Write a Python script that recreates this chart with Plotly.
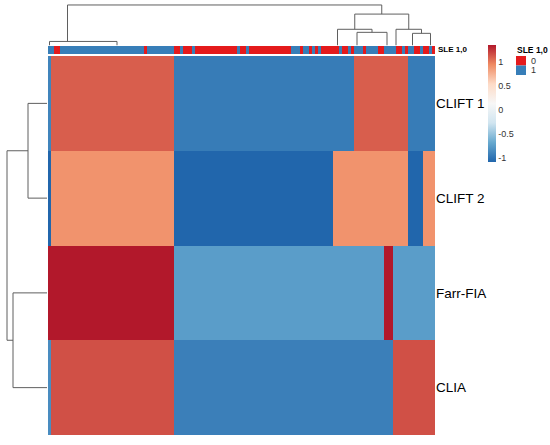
import numpy as np
import plotly.graph_objects as go

W, H = 550, 445

ROW_NAMES = ["CLIFT 1", "CLIFT 2", "Farr-FIA", "CLIA"]

# columns are already in dendrogram order; neighbouring samples share values,
# so each row is stored as one value per block of columns
BLOCK_SIZES = [1, 41, 53, 7, 10, 3, 5, 5, 4]
CLIFT1 = [-0.90, 1.10, -0.95, -0.95, 1.10, 1.10, 1.10, -0.95, -0.95]
CLIFT2 = [-1.08, 0.90, -1.08, 0.90, 0.90, 0.90, 0.90, -1.08, 0.90]
FARR_FIA = [1.35, 1.35, -0.75, -0.75, -0.75, 1.35, -0.75, -0.75, -0.75]
CLIA = [-0.85, 1.15, -0.93, -0.93, -0.93, -0.93, 1.15, 1.15, 1.15]

# SLE status per sample (0 / 1), same column order
SLE = [
    1, 1, 0, 0, 1, 1, 1, 1, 1, 1, 1, 1, 1, 1, 1, 1, 1, 1, 1, 1,
    1, 1, 1, 1, 1, 1, 1, 1, 1, 1, 1, 1, 0, 1, 1, 1, 1, 1, 1, 1,
    1, 1, 0, 0, 1, 0, 0, 0, 1, 0, 0, 0, 0, 0, 0, 0, 0, 0, 0, 0,
    0, 0, 0, 1, 0, 0, 1, 0, 0, 0, 0, 0, 0, 0, 0, 0, 0, 0, 0, 0,
    0, 1, 1, 1, 0, 1, 1, 0, 1, 0, 1, 0, 0, 0, 0, 0, 0, 1, 0, 0,
    1, 0, 1, 1, 1, 0, 1, 1, 1, 1, 0, 0, 1, 1, 1, 1, 0, 0, 1, 0,
    1, 1, 0, 0, 1, 0, 0, 1, 0,
]

# dendrogram merges: left pos, right pos, merge height, left child height, right child height
COL_TREE = [
    (6.0, 110.75, 40, 4, 31),
    (0.0, 22.5, 4, 0, 0),
    (101.75, 119.75, 31, 16, 16),
    (96.0, 107.5, 16, 0, 13),
    (102.5, 112.5, 13, 0, 0),
    (115.5, 124.0, 16, 0, 12),
    (121.0, 127.0, 12, 0, 0),
]
ROW_TREE = [
    (0, 1, 19, 0, 0),
    (2, 3, 34, 0, 0),
    (0.5, 2.5, 40, 19, 34),
]

CBAR_TICKS = [-1, -0.5, 0, 0.5, 1]
ZMIN, ZMAX = -1.08, 1.35

RDBU = [
    [0.0, "#2166AC"], [1 / 6, "#67A9CF"], [2 / 6, "#D1E5F0"], [3 / 6, "#F7F7F7"],
    [4 / 6, "#FDDBC7"], [5 / 6, "#EF8A62"], [1.0, "#B2182B"],
]
SLE_RED, SLE_BLUE = "#E41A1C", "#377EB8"
LINE = "#5f5f5f"
FONT = "Liberation Sans, Arial, sans-serif"


def px_x(p):
    return p / W


def px_y(p):
    return 1 - p / H


def tree_lines(nodes):
    pos, hgt = [], []
    for left, right, h, hl, hr in nodes:
        pos += [left, left, right, right, None]
        hgt += [hl, h, h, hr, None]
    return pos, hgt


z = np.array([np.repeat(row, BLOCK_SIZES) for row in (CLIFT1, CLIFT2, FARR_FIA, CLIA)])
n_cols = z.shape[1]

fig = go.Figure()

fig.add_trace(go.Heatmap(
    z=z, zmin=ZMIN, zmax=ZMAX, colorscale=RDBU, xaxis="x", yaxis="y",
    colorbar=dict(
        x=px_x(488), xanchor="left", y=px_y(45), yanchor="top",
        lenmode="pixels", len=117, thickness=8, thicknessmode="pixels",
        xpad=0, ypad=0, outlinewidth=0, ticks="",
        tickvals=CBAR_TICKS, ticktext=[f"{t:g}" for t in CBAR_TICKS],
        tickfont=dict(size=9, color="#333", family=FONT),
    ),
    hoverinfo="skip",
))

fig.add_trace(go.Heatmap(
    z=[SLE], zmin=0, zmax=1, showscale=False, xaxis="x2", yaxis="y2",
    colorscale=[[0, SLE_RED], [0.5, SLE_RED], [0.5, SLE_BLUE], [1, SLE_BLUE]],
    hoverinfo="skip",
))

cx, cy = tree_lines(COL_TREE)
fig.add_trace(go.Scatter(x=cx, y=cy, mode="lines", xaxis="x3", yaxis="y3",
                         line=dict(color=LINE, width=1), hoverinfo="skip", showlegend=False))

ry, rx = tree_lines(ROW_TREE)
fig.add_trace(go.Scatter(x=rx, y=ry, mode="lines", xaxis="x4", yaxis="y4",
                         line=dict(color=LINE, width=1), hoverinfo="skip", showlegend=False))

x_dom = [px_x(48), px_x(435)]
main_dom = [px_y(435), px_y(56)]
hidden = dict(visible=False, showgrid=False, zeroline=False)

fig.update_layout(
    width=W, height=H, margin=dict(l=0, r=0, t=0, b=0),
    paper_bgcolor="white", plot_bgcolor="white", showlegend=False,
    font=dict(family=FONT, color="black"),
    xaxis=dict(domain=x_dom, range=[-0.5, n_cols - 0.5], **hidden),
    yaxis=dict(domain=main_dom, range=[3.5, -0.5], side="right", anchor="x",
               tickmode="array", tickvals=list(range(4)), ticktext=ROW_NAMES,
               ticks="", showgrid=False, zeroline=False, showline=False,
               tickfont=dict(size=13.5, color="black", family=FONT)),
    xaxis2=dict(domain=x_dom, matches="x", anchor="y2", **hidden),
    yaxis2=dict(domain=[px_y(54), px_y(46)], range=[-0.5, 0.5], anchor="x2", **hidden),
    xaxis3=dict(domain=x_dom, matches="x", anchor="y3", **hidden),
    yaxis3=dict(domain=[px_y(45.5), 1], range=[0, 44.9], anchor="x3", **hidden),
    xaxis4=dict(domain=[0, px_x(47)], range=[47, 0], anchor="y4", **hidden),
    yaxis4=dict(domain=main_dom, matches="y", anchor="x4", **hidden),
)

# annotation-bar label and its legend
fig.add_annotation(x=px_x(436), y=px_y(49.5), xref="paper", yref="paper", xanchor="left",
                   yanchor="middle", text="<b>SLE 1,0</b>", showarrow=False,
                   font=dict(size=8, color="black", family=FONT))
fig.add_annotation(x=px_x(515), y=px_y(50), xref="paper", yref="paper", xanchor="left",
                   yanchor="middle", text="<b>SLE 1,0</b>", showarrow=False,
                   font=dict(size=8.5, color="black", family=FONT))
for i, (label, color) in enumerate([("0", SLE_RED), ("1", SLE_BLUE)]):
    top = 56 + i * 9.5
    fig.add_shape(type="rect", xref="paper", yref="paper",
                  x0=px_x(516), x1=px_x(526), y0=px_y(top + 9.5), y1=px_y(top),
                  fillcolor=color, line=dict(width=0))
    fig.add_annotation(x=px_x(529), y=px_y(top + 4.75), xref="paper", yref="paper",
                       xanchor="left", yanchor="middle", text=label, showarrow=False,
                       font=dict(size=9, color="#333", family=FONT))

# drop the browser's default body margin so the 550x445 figure fills the window
fig.write_html("out.html", config={"displayModeBar": False},
               post_script="document.body.style.margin = '0';")
